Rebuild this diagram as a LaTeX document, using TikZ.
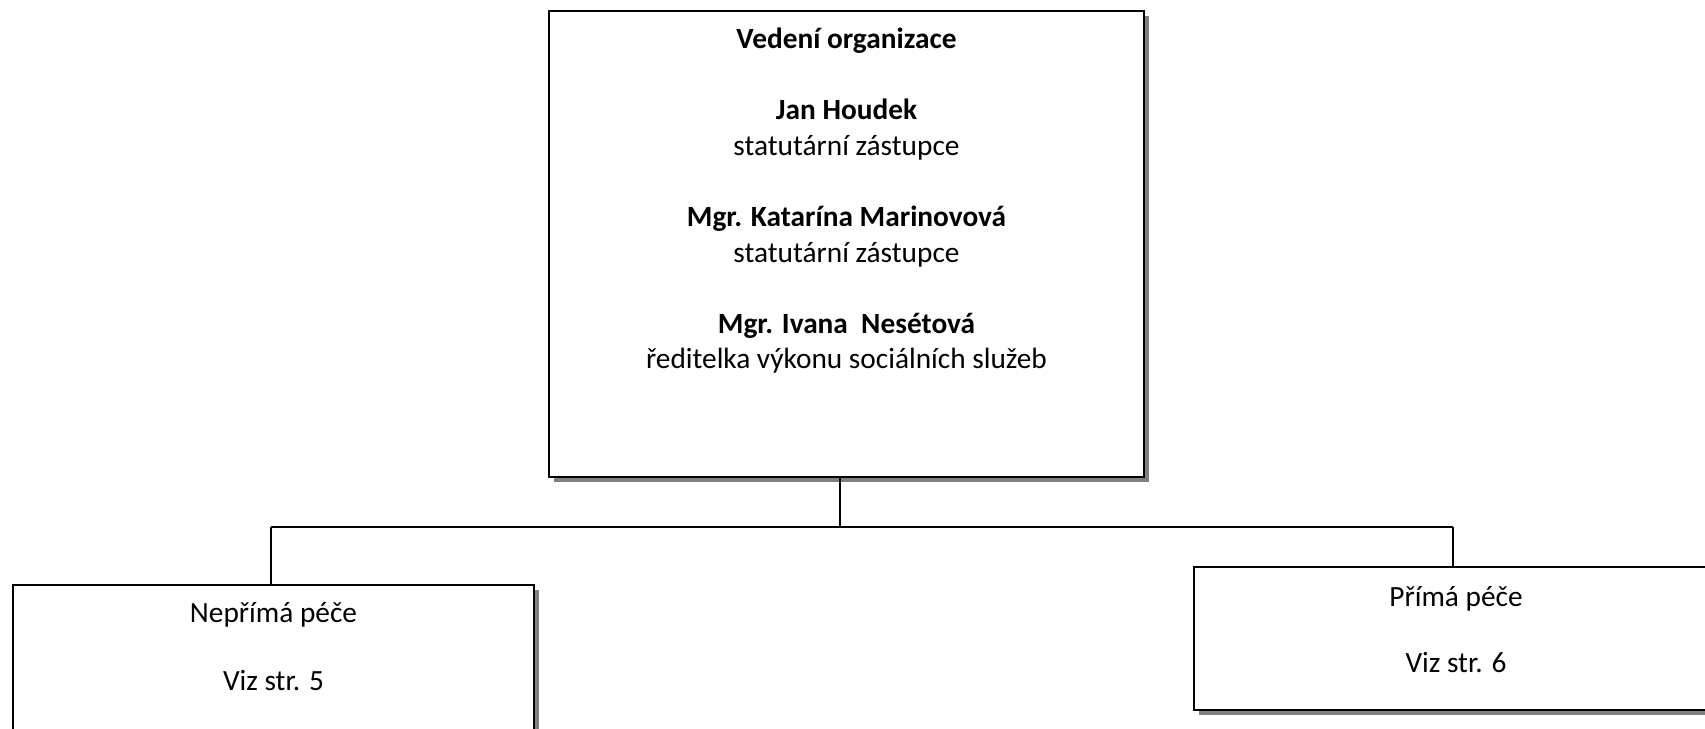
\documentclass[tikz,border=0pt]{standalone}
\usepackage{fontspec}
\setmainfont{Carlito}
\usetikzlibrary{shadows}
\begin{document}
\begin{tikzpicture}[x=0.375pt,y=-0.375pt,
  box/.style={draw=black, line width=1pt, fill=white, inner sep=0pt, outer sep=0pt,
    drop shadow={shadow xshift=2pt, shadow yshift=-2pt, fill=black!50, opacity=1}},
  txt/.style={anchor=base, inner sep=0pt, font=\fontsize{11pt}{13.4pt}\selectfont},
  btxt/.style={txt, font=\fontsize{11pt}{13.4pt}\selectfont\bfseries},
  conn/.style={draw=black, line width=0.75pt}]
\useasboundingbox (0,0) rectangle (1705,729);
\clip (0,0) rectangle (1705,729);
% junction points
\coordinate (jt) at (840,527);
\coordinate (jl) at (271,527);
\coordinate (jr) at (1453,527);
% boxes
\node[box, minimum width=223.1pt, minimum height=174.75pt] (top) at (846.5,244) {};
\node[box, minimum width=195.4pt, minimum height=60pt] (left) at (273.5,665) {};
\node[box, minimum width=196.5pt, minimum height=53.6pt] (right) at (1456,638.5) {};
% connectors
\draw[conn] (top.south -| jt) -- (jt);
\draw[conn] (jl) -- (jr);
\draw[conn] (jl) -- (left.north -| jl);
\draw[conn] (jr) -- (right.north -| jr);
% texts top
\node[btxt] (t1) at (846.5,49) {Vedení organizace};
\node[btxt] (t2) at (846.5,120) {Jan Houdek};
\node[txt] (t3) at (846.5,156) {statutární zástupce};
\node[btxt] (t4) at (846.5,227) {Mgr. Katarína Marinovová};
\node[txt] (t5) at (846.5,263) {statutární zástupce};
\node[btxt] (t6) at (846.5,334) {Mgr. Ivana~ Nesétová};
\node[txt] (t7) at (846.5,369) {ředitelka výkonu sociálních služeb};
% texts left
\node[txt] (l1) at (273.5,623) {Nepřímá péče};
\node[txt] (l2) at (273.5,691) {Viz str. 5};
% texts right
\node[txt] (r1) at (1456,607) {Přímá péče};
\node[txt] (r2) at (1456,673) {Viz str. 6};
\end{tikzpicture}
\end{document}
